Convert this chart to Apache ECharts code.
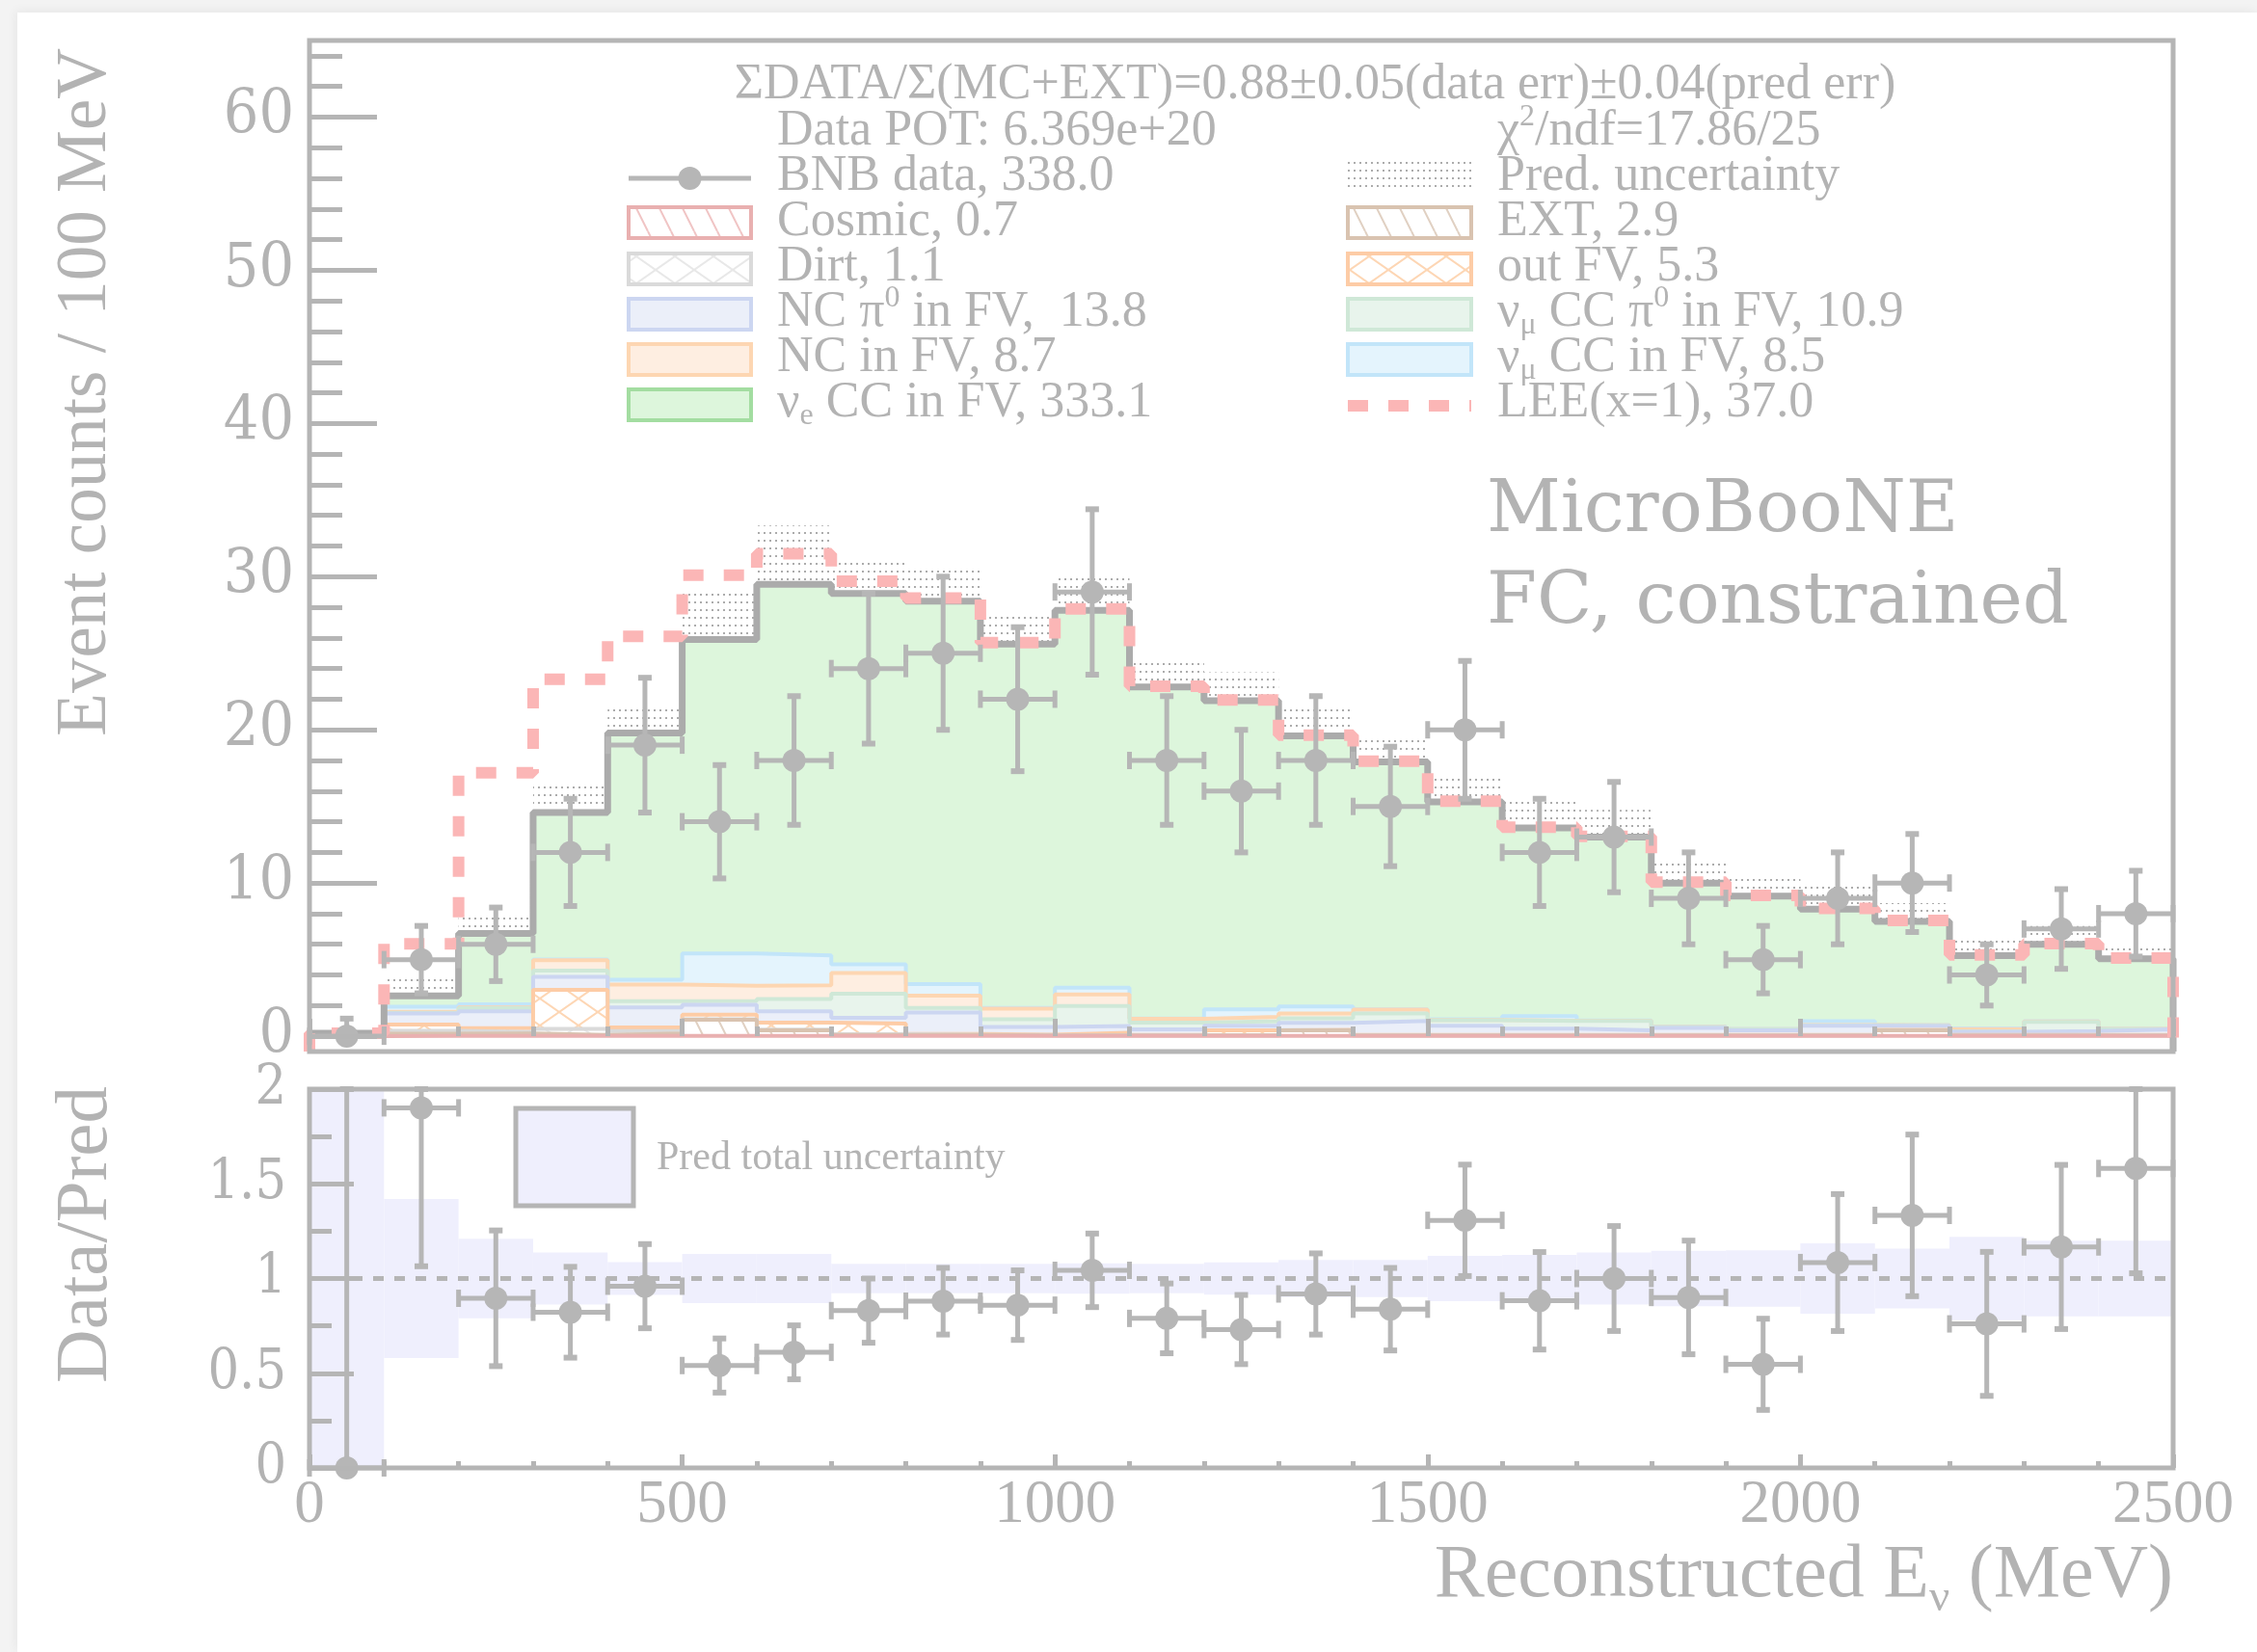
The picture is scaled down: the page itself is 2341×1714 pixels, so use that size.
<!DOCTYPE html>
<html>
<head>
<meta charset="utf-8">
<title>MicroBooNE FC constrained - reconstructed neutrino energy</title>
<script src="https://cdn.jsdelivr.net/npm/echarts@6.0.0/dist/echarts.min.js"></script>
<style>
html, body { margin: 0; padding: 0; }
body { width: 2341px; height: 1714px; background: #f3f3f3; position: relative; overflow: hidden; }
#sheet { position: absolute; left: 18px; top: 13px; right: 0; bottom: 0; background: #ffffff; box-shadow: -2px -2px 10px rgba(0,0,0,0.05); }
#chart { position: absolute; left: 0; top: 0; width: 2341px; height: 1714px; }
</style>
</head>
<body>
<div id="sheet"></div>
<div id="chart"></div>
<script>
// ---------------- binning (reconstructed E_nu, MeV) ----------------
const binLow = [0, 100, 200, 300, 400, 500, 600, 700, 800, 900, 1000, 1100, 1200,
                1300, 1400, 1500, 1600, 1700, 1800, 1900, 2000, 2100, 2200, 2300, 2400];
const BIN_W = 100;
const X_MAX = 2500;

// ---------------- BNB data ----------------
const dataCounts  = [0, 5, 6, 12, 19, 14, 18, 24, 25, 22, 29, 18, 16, 18, 15, 20, 12, 13, 9, 5, 9, 10, 4, 7, 8];
const dataErrUp   = [1.15, 2.2, 2.4, 3.5, 4.4, 3.7, 4.2, 4.9, 5.0, 4.7, 5.4, 4.2, 4.0, 4.2, 3.9, 4.5, 3.5, 3.6, 3.0, 2.2, 3.0, 3.2, 2.0, 2.6, 2.8];
const dataErrDown = [0,    2.2, 2.4, 3.5, 4.4, 3.7, 4.2, 4.9, 5.0, 4.7, 5.4, 4.2, 4.0, 4.2, 3.9, 4.5, 3.5, 3.6, 3.0, 2.2, 3.0, 3.2, 2.0, 2.6, 2.8];

// ---------------- predicted components (stacked bottom -> top) ----------------
const cosmic    = [0, 0.03, 0.03, 0.03, 0.03, 0.03, 0.03, 0.03, 0.03, 0.03, 0.03, 0.03, 0.03, 0.03, 0.03, 0.03, 0.03, 0.03, 0.03, 0.03, 0.03, 0.03, 0.03, 0.03, 0.03];
const ext       = [0, 0.13, 0.15, 0.05, 0.15, 1.05, 0.35, 0.05, 0.05, 0.03, 0.02, 0.02, 0.03, 0.35, 0.02, 0.02, 0.02, 0.02, 0.02, 0.02, 0.02, 0.35, 0.02, 0.02, 0.02];
const dirt      = [0.02, 0.2, 0.1, 0.4, 0.15, 0.02, 0.05, 0.05, 0.02, 0.02, 0.02, 0.02, 0.02, 0.02, 0.02, 0.02, 0.02, 0.02, 0.02, 0.02, 0.02, 0.02, 0.02, 0.02, 0.02];
const outFV     = [0.02, 0.4, 0.25, 2.55, 0.25, 0.3, 0.45, 0.7, 0.05, 0.02, 0.15, 0.02, 0.3, 0.02, 0.02, 0.02, 0.02, 0.02, 0.02, 0.02, 0.02, 0.02, 0.02, 0.02, 0.02];
const ncPi0     = [0.05, 0.73, 1.1, 0.84, 1.3, 0.65, 0.75, 0.37, 1.4, 0.5, 0.45, 0.35, 0.3, 0.45, 0.9, 0.6, 0.4, 0.3, 0.45, 0.3, 0.6, 0.25, 0.2, 0.25, 0.35];
const numuCCPi0 = [0, 0.05, 0.2, 0.42, 0.4, 0.25, 0.8, 1.57, 0.3, 0.5, 1.3, 0.45, 0.3, 0.3, 0.5, 0.35, 0.5, 0.6, 0.05, 0.05, 0.02, 0.02, 0.02, 0.6, 0.02];
const ncOther   = [0.02, 0.05, 0.05, 0.67, 1.1, 1.0, 0.9, 1.36, 0.8, 0.7, 0.75, 0.25, 0.28, 0.32, 0.25, 0.02, 0.02, 0.02, 0.02, 0.02, 0.02, 0.02, 0.15, 0.02, 0.02];
const numuCC    = [0.02, 0.33, 0.2, 0.05, 0.3, 2.1, 1.95, 0.57, 0.75, 0.05, 0.45, 0.02, 0.5, 0.45, 0.02, 0.05, 0.3, 0.02, 0.02, 0.02, 0.25, 0.02, 0.05, 0.02, 0.02];
const nueCC     = [0.07, 0.71, 4.62, 9.59, 16.12, 20.5, 24.22, 24.2, 25.0, 23.75, 24.63, 21.64, 20.14, 17.66, 16.14, 14.19, 12.29, 11.97, 9.37, 8.66, 7.32, 6.77, 4.75, 5.02, 4.56];

// LEE (x=1) signal added on top of the prediction
const leeExcess = [0, 3.4, 10.5, 8.7, 6.3, 4.2, 2.0, 0.8, 0.2, 0.1, 0.1, 0.05, 0.05, 0.05, 0.05, 0.05, 0.05, 0.05, 0.05, 0.05, 0.05, 0.05, 0.05, 0.05, 0.05];

// relative total prediction uncertainty per bin
const predRelErr = [1.0, 0.42, 0.21, 0.137, 0.086, 0.13, 0.13, 0.078, 0.078, 0.078, 0.08, 0.078, 0.085, 0.098, 0.098, 0.12, 0.125, 0.137, 0.146, 0.149, 0.186, 0.158, 0.22, 0.20, 0.20];

// ---------------- axis ticks ----------------
const yMajorMain = [0, 10, 20, 30, 40, 50, 60];
const yMinorMain = [2, 4, 6, 8, 12, 14, 16, 18, 22, 24, 26, 28, 32, 34, 36, 38, 42, 44, 46, 48, 52, 54, 56, 58, 62, 64];
const Y_MIN = -1, Y_MAX = 65;
const R_MIN = 0, R_MAX = 2;

// ---------------- style ----------------
const GRAY = '#b5b5b5';
const TEXT = '#b3b3b3';
const DATA = '#b6b6b6';
const SERIF = '"Liberation Serif", "Times New Roman", serif';
const NUMF = '"DejaVu Serif Condensed", "DejaVu Serif", serif';
const WIDE = '"DejaVu Serif", serif';

const MAIN = { left: 321, top: 42, width: 1933, height: 1049 };
const RATIO = { left: 321, top: 1130, width: 1933, height: 393 };

function tile(w, h, draw) {
  const c = document.createElement('canvas');
  c.width = w; c.height = h;
  const g = c.getContext('2d');
  draw(g, w, h);
  return { image: c, repeat: 'repeat' };
}
function diagTile(color) {
  return tile(24, 48, (g, w, h) => {
    g.fillStyle = '#ffffff'; g.fillRect(0, 0, w, h);
    g.strokeStyle = color; g.lineWidth = 2; g.beginPath();
    [-w, 0, w].forEach(o => { g.moveTo(o, 0); g.lineTo(o + w, h); });
    g.stroke();
  });
}
function crossTile(color) {
  return tile(40, 28, (g, w, h) => {
    g.fillStyle = '#ffffff'; g.fillRect(0, 0, w, h);
    g.strokeStyle = color; g.lineWidth = 2; g.beginPath();
    [-w, 0, w].forEach(o => { g.moveTo(o, 0); g.lineTo(o + w, h); g.moveTo(o, h); g.lineTo(o + w, 0); });
    g.stroke();
  });
}
const pat = {
  cosmic: diagTile('#f0c4c4'),
  ext: diagTile('#e0d0c2'),
  dirt: crossTile('#e8e8e8'),
  outFV: crossTile('#fdd6b4'),
  dots: tile(6, 8, (g) => { g.fillStyle = '#acacac'; g.fillRect(0, 0, 2, 2); })
};

const stackOrder = [
  { name: 'Cosmic', values: cosmic, line: '#e9b0b0', fill: pat.cosmic },
  { name: 'EXT', values: ext, line: '#d9c3b0', fill: pat.ext },
  { name: 'Dirt', values: dirt, line: '#dadada', fill: pat.dirt },
  { name: 'out FV', values: outFV, line: '#fdcca6', fill: pat.outFV },
  { name: 'NC pi0 in FV', values: ncPi0, line: '#ccd6f1', fill: '#ebeff9' },
  { name: 'numu CC pi0 in FV', values: numuCCPi0, line: '#cfe8d7', fill: '#e8f4ec' },
  { name: 'NC in FV', values: ncOther, line: '#fdd6b2', fill: '#feeee1' },
  { name: 'numu CC in FV', values: numuCC, line: '#c2e5f9', fill: '#e4f4fd' },
  { name: 'nue CC in FV', values: nueCC, line: '#a3dda1', fill: '#ddf6dc' }
];

// cumulative stack tops
const cum = [];
let running = binLow.map(() => 0);
stackOrder.forEach(c => { running = running.map((v, i) => v + c.values[i]); cum.push(running); });
const total = cum[cum.length - 1];

function stepPoints(vals) {
  const pts = [[0, Y_MIN]];
  vals.forEach((v, i) => pts.push([binLow[i], v]));
  pts.push([X_MAX, vals[vals.length - 1]]);
  pts.push([X_MAX, Y_MIN]);
  return pts;
}

const series = [];

// stacked histogram layers, drawn from the top of the stack down
for (let k = stackOrder.length - 1; k >= 0; k--) {
  const c = stackOrder[k];
  series.push({
    type: 'line', name: c.name, xAxisIndex: 0, yAxisIndex: 0, step: 'end', symbol: 'none', silent: true,
    data: stepPoints(cum[k]),
    lineStyle: { color: c.line, width: 4 },
    areaStyle: { color: c.fill, opacity: 1, origin: 'auto' }
  });
}

// prediction uncertainty band (dotted)
series.push({
  type: 'custom', name: 'Pred. uncertainty', xAxisIndex: 0, yAxisIndex: 0, silent: true,
  data: binLow.map((x, i) => [x, total[i] * (1 - predRelErr[i]), total[i] * (1 + predRelErr[i])]),
  encode: { x: 0, y: [1, 2] },
  renderItem: (params, api) => {
    const a = api.coord([api.value(0), api.value(2)]);
    const b = api.coord([api.value(0) + BIN_W, api.value(1)]);
    return { type: 'rect', shape: { x: a[0], y: a[1], width: b[0] - a[0], height: b[1] - a[1] }, style: { fill: pat.dots } };
  }
});

// total prediction outline
series.push({
  type: 'line', name: 'Total prediction', xAxisIndex: 0, yAxisIndex: 0, step: 'end', symbol: 'none', silent: true,
  data: stepPoints(total), lineStyle: { color: '#ababab', width: 7 }
});

// LEE on top of prediction
series.push({
  type: 'line', name: 'LEE(x=1)', xAxisIndex: 0, yAxisIndex: 0, step: 'end', symbol: 'none', silent: true,
  data: stepPoints(total.map((v, i) => v + leeExcess[i])),
  lineStyle: { color: '#fbb6b6', width: 12, type: [21, 21] }
});

function pointRenderer(lo, hi) {
  return function (params, api) {
    const x = api.value(0), y = api.value(1), dn = api.value(2), up = api.value(3);
    const c = api.coord([x, y]);
    const l = api.coord([x - BIN_W / 2, y]);
    const r = api.coord([x + BIN_W / 2, y]);
    const t = api.coord([x, Math.min(y + up, hi)]);
    const b = api.coord([x, Math.max(y - dn, lo)]);
    const s = { stroke: DATA, lineWidth: 5 };
    const capS = { stroke: DATA, lineWidth: 6 };
    const kids = [
      { type: 'line', shape: { x1: l[0], y1: c[1], x2: r[0], y2: c[1] }, style: s },
      { type: 'line', shape: { x1: l[0], y1: c[1] - 9, x2: l[0], y2: c[1] + 9 }, style: s },
      { type: 'line', shape: { x1: r[0], y1: c[1] - 9, x2: r[0], y2: c[1] + 9 }, style: s }
    ];
    if (t[1] < c[1] - 1) {
      kids.push({ type: 'line', shape: { x1: c[0], y1: c[1], x2: c[0], y2: t[1] }, style: s });
      kids.push({ type: 'line', shape: { x1: c[0] - 7, y1: t[1], x2: c[0] + 7, y2: t[1] }, style: capS });
    }
    if (b[1] > c[1] + 1) {
      kids.push({ type: 'line', shape: { x1: c[0], y1: c[1], x2: c[0], y2: b[1] }, style: s });
      kids.push({ type: 'line', shape: { x1: c[0] - 7, y1: b[1], x2: c[0] + 7, y2: b[1] }, style: capS });
    }
    kids.push({ type: 'circle', shape: { cx: c[0], cy: c[1], r: 12 }, style: { fill: DATA } });
    return { type: 'group', children: kids };
  };
}

// BNB data points
series.push({
  type: 'custom', name: 'BNB data', xAxisIndex: 0, yAxisIndex: 0, silent: true, z: 5,
  data: binLow.map((x, i) => [x + BIN_W / 2, dataCounts[i], dataErrDown[i], dataErrUp[i]]),
  encode: { x: 0, y: 1 },
  renderItem: pointRenderer(Y_MIN, Y_MAX)
});

// ---------------- ratio panel ----------------
series.push({
  type: 'custom', name: 'Pred total uncertainty', xAxisIndex: 1, yAxisIndex: 2, silent: true,
  data: binLow.map((x, i) => [x, 1 - predRelErr[i], 1 + predRelErr[i]]),
  encode: { x: 0, y: [1, 2] },
  renderItem: (params, api) => {
    const a = api.coord([api.value(0), Math.min(api.value(2), R_MAX)]);
    const b = api.coord([api.value(0) + BIN_W, Math.max(api.value(1), R_MIN)]);
    return { type: 'rect', shape: { x: a[0], y: a[1], width: b[0] - a[0], height: b[1] - a[1] }, style: { fill: '#efeffd' } };
  }
});
series.push({
  type: 'line', name: 'unity', xAxisIndex: 1, yAxisIndex: 2, symbol: 'none', silent: true,
  data: [[0, 1], [X_MAX, 1]], lineStyle: { color: GRAY, width: 5, type: [11, 11] }
});
series.push({
  type: 'custom', name: 'Data/Pred', xAxisIndex: 1, yAxisIndex: 2, silent: true, z: 5,
  data: binLow.map((x, i) => [x + BIN_W / 2, dataCounts[i] / total[i], dataErrDown[i] / total[i], dataErrUp[i] / total[i]]),
  encode: { x: 0, y: 1 },
  renderItem: pointRenderer(R_MIN, R_MAX)
});

// ---------------- axes ----------------
const tickLine = { color: GRAY, width: 5 };
function xAxisCfg(gridIndex, major, minor, showLabels) {
  return {
    type: 'value', gridIndex, min: 0, max: X_MAX, interval: 500, z: 50,
    axisLine: { show: false },
    axisTick: { show: true, inside: true, length: major, lineStyle: tickLine },
    minorTick: { show: true, splitNumber: 5, length: minor, lineStyle: tickLine },
    splitLine: { show: false }, minorSplitLine: { show: false },
    axisLabel: showLabels
      ? { show: true, color: TEXT, fontFamily: SERIF, fontSize: 63, margin: 8, formatter: v => String(v) }
      : { show: false }
  };
}

const option = {
  animation: false,
  backgroundColor: 'transparent',
  grid: [
    Object.assign({ containLabel: false, outerBoundsMode: 'none', show: false }, MAIN),
    Object.assign({ containLabel: false, outerBoundsMode: 'none', show: false }, RATIO)
  ],
  xAxis: [xAxisCfg(0, 18, 10, false), xAxisCfg(1, 14, 7, true)],
  yAxis: [
    {
      type: 'value', gridIndex: 0, min: Y_MIN, max: Y_MAX, position: 'left', z: 50,
      axisLine: { show: false },
      axisTick: { show: true, inside: true, length: 70, lineStyle: tickLine, customValues: yMajorMain },
      axisLabel: { show: true, customValues: yMajorMain, color: TEXT, fontFamily: NUMF, fontSize: 64, margin: 16 },
      splitLine: { show: false }
    },
    {
      type: 'value', gridIndex: 0, min: Y_MIN, max: Y_MAX, position: 'left', offset: 0, z: 50,
      axisLine: { show: false },
      axisTick: { show: true, inside: true, length: 34, lineStyle: tickLine, customValues: yMinorMain },
      axisLabel: { show: false },
      splitLine: { show: false }
    },
    {
      type: 'value', gridIndex: 1, min: R_MIN, max: R_MAX, interval: 0.5, position: 'left', z: 50,
      axisLine: { show: false },
      axisTick: { show: true, inside: true, length: 46, lineStyle: tickLine },
      minorTick: { show: true, splitNumber: 2, length: 23, lineStyle: tickLine },
      axisLabel: { show: true, color: TEXT, fontFamily: NUMF, fontSize: 57, margin: 24 },
      splitLine: { show: false }, minorSplitLine: { show: false }
    }
  ],
  series: series
};

// ---------------- frames, titles, legend ----------------
const FS = 52;
const RICH = {
  b: { fontSize: FS, lineHeight: 60, fontFamily: SERIF, fill: TEXT, color: TEXT },
  sub: { fontSize: 32, lineHeight: 32, fontFamily: SERIF, fill: TEXT, color: TEXT, verticalAlign: 'bottom' },
  sup: { fontSize: 32, lineHeight: 32, fontFamily: SERIF, fill: TEXT, color: TEXT, verticalAlign: 'top' }
};
function txt(x, y, text, extra) {
  return {
    type: 'text', x, y, z: 120, silent: true,
    style: Object.assign({
      text, fill: TEXT, fontFamily: SERIF, fontSize: FS,
      align: 'left', verticalAlign: 'middle', textAlign: 'left', textVerticalAlign: 'middle', rich: RICH
    }, extra || {})
  };
}
function box(x, yc, w, h, fill, stroke) {
  return { type: 'rect', z: 115, silent: true, shape: { x, y: yc - h / 2, width: w, height: h },
    style: { fill, stroke: stroke || null, lineWidth: stroke ? 4 : 0 } };
}

const LX = 652, LW = 127, RX = 1398, RW = 128, BH = 32;
const boxY = [185, 231, 279, 326, 373, 420];
const textY = [183, 230, 277, 324, 371, 418];
const LTX = 806, RTX = 1553;

const graphics = [
  // frames
  { type: 'rect', z: 100, silent: true, shape: { x: MAIN.left, y: MAIN.top, width: MAIN.width, height: MAIN.height }, style: { fill: null, stroke: GRAY, lineWidth: 5 } },
  { type: 'rect', z: 100, silent: true, shape: { x: RATIO.left, y: RATIO.top, width: RATIO.width, height: RATIO.height }, style: { fill: null, stroke: GRAY, lineWidth: 5 } },

  // header
  txt(1364, 88, '{b|ΣDATA/Σ(MC+EXT)=0.88±0.05(data err)±0.04(pred err)}', { align: 'center', textAlign: 'center' }),
  txt(LTX, 136, '{b|Data POT: 6.369e+20}'),
  txt(RTX, 136, '{b|χ}{sup|2}{b|/ndf=17.86/25}'),

  // legend, left column
  { type: 'line', z: 115, silent: true, shape: { x1: LX, y1: boxY[0], x2: LX + LW, y2: boxY[0] }, style: { stroke: DATA, lineWidth: 5 } },
  { type: 'circle', z: 116, silent: true, shape: { cx: LX + LW / 2, cy: boxY[0], r: 12 }, style: { fill: DATA } },
  txt(LTX, textY[0], '{b|BNB data, 338.0}'),
  box(LX, boxY[1], LW, BH, pat.cosmic, '#e9b0b0'),
  txt(LTX, textY[1], '{b|Cosmic, 0.7}'),
  box(LX, boxY[2], LW, BH, pat.dirt, '#dadada'),
  txt(LTX, textY[2], '{b|Dirt, 1.1}'),
  box(LX, boxY[3], LW, BH, '#ebeff9', '#ccd6f1'),
  txt(LTX, textY[3], '{b|NC π}{sup|0}{b| in FV,  13.8}'),
  box(LX, boxY[4], LW, BH, '#feeee1', '#fdd6b2'),
  txt(LTX, textY[4], '{b|NC in FV, 8.7}'),
  box(LX, boxY[5], LW, BH, '#ddf6dc', '#a3dda1'),
  txt(LTX, textY[5], '{b|ν}{sub|e}{b| CC in FV, 333.1}'),

  // legend, right column
  box(RX, 183, RW, BH, pat.dots, null),
  txt(RTX, textY[0], '{b|Pred. uncertainty}'),
  box(RX, boxY[1], RW, BH, pat.ext, '#d9c3b0'),
  txt(RTX, textY[1], '{b|EXT, 2.9}'),
  box(RX, boxY[2], RW, BH, pat.outFV, '#fdcca6'),
  txt(RTX, textY[2], '{b|out FV, 5.3}'),
  box(RX, boxY[3], RW, BH, '#e8f4ec', '#cfe8d7'),
  txt(RTX, textY[3], '{b|ν}{sub|μ}{b| CC π}{sup|0}{b| in FV, 10.9}'),
  box(RX, boxY[4], RW, BH, '#e4f4fd', '#c2e5f9'),
  txt(RTX, textY[4], '{b|ν}{sub|μ}{b| CC in FV, 8.5}'),
  { type: 'line', z: 115, silent: true, shape: { x1: RX, y1: 421, x2: RX + RW, y2: 421 }, style: { stroke: '#fbb6b6', lineWidth: 12, lineDash: [21, 21] } },
  txt(RTX, textY[5], '{b|LEE(x=1), 37.0}'),

  // experiment label
  txt(1542, 532, 'MicroBooNE', { fontFamily: WIDE, fontSize: 75, rich: null }),
  txt(1542, 627, 'FC, constrained', { fontFamily: WIDE, fontSize: 75, rich: null }),

  // ratio legend
  { type: 'rect', z: 115, silent: true, shape: { x: 535, y: 1150, width: 122, height: 101 }, style: { fill: '#efeffd', stroke: GRAY, lineWidth: 5 } },
  txt(681, 1202, 'Pred total uncertainty', { fontSize: 42, rich: null }),

  // axis titles
  { type: 'text', z: 120, silent: true, x: 90, y: 50, rotation: Math.PI / 2,
    style: { text: 'Event counts / 100 MeV', fill: TEXT, fontFamily: SERIF, fontSize: 73, align: 'right', verticalAlign: 'middle', textAlign: 'right', textVerticalAlign: 'middle' } },
  { type: 'text', z: 120, silent: true, x: 90, y: 1127, rotation: Math.PI / 2,
    style: { text: 'Data/Pred', fill: TEXT, fontFamily: SERIF, fontSize: 77, align: 'right', verticalAlign: 'middle', textAlign: 'right', textVerticalAlign: 'middle' } },
  { type: 'text', z: 120, silent: true, x: 2254, y: 1636,
    style: { text: '{t|Reconstructed E}{s|ν}{t| (MeV)}', fill: TEXT, align: 'right', verticalAlign: 'middle', textAlign: 'right', textVerticalAlign: 'middle',
      rich: {
        t: { fontSize: 78, lineHeight: 92, fontFamily: SERIF, fill: TEXT, color: TEXT },
        s: { fontSize: 47, lineHeight: 47, fontFamily: SERIF, fill: TEXT, color: TEXT, verticalAlign: 'bottom' }
      } } }
];
option.graphic = { elements: graphics };

const chart = echarts.init(document.getElementById('chart'), null, { renderer: 'canvas', width: 2341, height: 1714 });
chart.setOption(option);
</script>
</body>
</html>
